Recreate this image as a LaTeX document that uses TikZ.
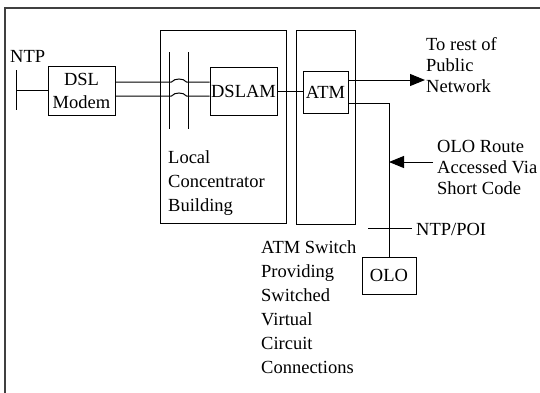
\documentclass[tikz,border=0pt]{standalone}
\usepackage{fontspec}
\setmainfont{Liberation Serif}
\usetikzlibrary{arrows.meta}
\begin{document}
\begin{tikzpicture}[x=1pt,y=-1pt,
  every node/.style={inner sep=0pt, font=\fontsize{18.5}{24}\selectfont},
  box/.style={draw, line width=1pt},
  ln/.style={line width=1pt},
  arr/.style={line width=1pt, -{Triangle[length=15pt,width=12pt]}},
  lbl/.style={anchor=base west, align=left}]
\useasboundingbox (0,0) rectangle (540,392);
\draw[line width=1.2pt, black!75] (5,400) -- (5,8) -- (545,8);
% boxes
\node[box, minimum width=126pt, minimum height=193pt] (bldg) at (223,126.5) {};
\node[box, minimum width=59pt, minimum height=194pt] (sw) at (325.5,127) {};
\node[box, minimum width=67pt, minimum height=49pt, align=center, font=\fontsize{18.5}{23}\selectfont] (dsl) at (81.5,90.5) {DSL\\Modem};
\node[box, minimum width=67pt, minimum height=48pt] (dslam) at (243.5,91) {DSLAM};
\node[box, minimum width=45pt, minimum height=42pt] (atm) at (325.5,92) {ATM};
\node[box, minimum width=54pt, minimum height=37pt] (olo) at (389,275.5) {OLO};
% NTP termination
\coordinate (ntpt) at (16,70);
\coordinate (ntpb) at (16,110);
\draw[ln] (ntpt) -- (ntpb);
\draw[ln] (dsl.west) -- (dsl.west -| ntpt);
% vertical lines in building
\coordinate (v1t) at (169,52); \coordinate (v1b) at (169,129);
\coordinate (v2t) at (188,52); \coordinate (v2b) at (188,129);
\draw[ln] (v1t) -- (v1b);
\draw[ln] (v2t) -- (v2b);
% wires
\draw[ln] ([yshift=8.5pt]dsl.east) -- ++(56,0) .. controls +(3,-4) and +(-3,-4) .. ++(15,0) -- ([yshift=8.5pt]dsl.east -| dslam.west);
\draw[ln] ([yshift=-5.5pt]dsl.east) -- ++(56,0) .. controls +(3,-4) and +(-3,-4) .. ++(15,0) -- ([yshift=-5.5pt]dsl.east -| dslam.west);
\draw[ln] (dslam.east) -- (dslam.east -| atm.west);
% to rest of network
\coordinate (rest) at (425,80);
\draw[arr] (atm.east |- rest) -- (rest);
% OLO route
\draw[ln] ([yshift=-11pt]atm.east) -| (olo.north);
\coordinate (routetail) at (433,162);
\draw[arr] (routetail) -- (routetail -| olo.north);
\coordinate (poil) at (368,228);
\coordinate (poir) at (412,228);
\draw[ln] (poil) -- (poir);
% labels (base = baseline of last line)
\node[lbl] (ntp) at (10,62) {NTP};
\node[lbl] (lcb) at (168,211) {Local\\Concentrator\\Building};
\node[lbl, font=\fontsize{18.5}{21}\selectfont] (torest) at (426,92) {To rest of\\Public\\Network};
\node[lbl, font=\fontsize{18.5}{21}\selectfont] (route) at (437,194) {OLO Route\\Accessed Via\\Short Code};
\node[lbl] (poi) at (416,235) {NTP/POI};
\node[lbl] (swl) at (261,373) {ATM Switch\\Providing\\Switched\\Virtual\\Circuit\\Connections};
\end{tikzpicture}
\end{document}
